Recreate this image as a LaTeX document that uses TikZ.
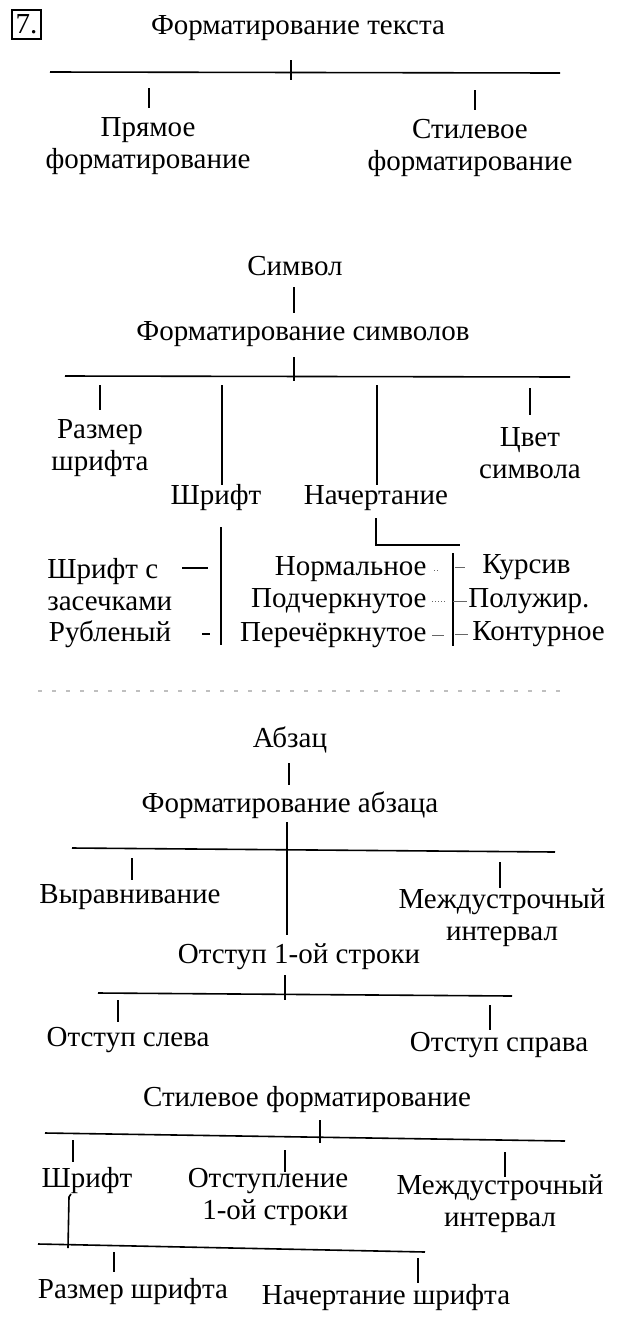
\documentclass[tikz,border=0pt]{standalone}
\usepackage{fontspec}
\setmainfont{Liberation Serif}
\usetikzlibrary{positioning}

\tikzset{
  lbl/.style={inner sep=0pt, align=center, font=\fontsize{14.5}{16}\selectfont},
  rule/.style={line width=0.8pt},
  faint/.style={line width=0.5pt, black!60},
}

\begin{document}
\begin{tikzpicture}[x=0.5pt,y=-0.5pt]
	  \useasboundingbox (0,0) rectangle (633,1335);

	  % Define nodes: text formatting
	  \node[lbl, draw, line width=0.6pt, minimum width=14.5pt, minimum height=14.5pt] (num) at (26.5,24.5) {7.};
	  \node[lbl] (txtfmt) at (298,28)  {Форматирование текста};
	  \node[lbl] (direct) at (148,146) {Прямое\\форматирование};
	  \node[lbl] (styled) at (470,148) {Стилевое\\форматирование};

	  % Connect the nodes
	  \coordinate (barA) at (50,72);
	  \coordinate (barB) at (560,73);
	  \draw[rule] (barA) -- (barB);
	  \draw[rule] (txtfmt.center) ++(-7,32) -- ++(0,20);
	  \draw[rule] (direct.center) ++(1,-58) -- ++(0,20);
	  \draw[rule] (styled.center) ++(5,-58) -- ++(0,20);

	  % Define nodes: symbol
	  \node[lbl] (symbol)  at (295,266) {Символ};
	  \node[lbl] (symfmt)  at (303,334) {Форматирование символов};
	  \node[lbl] (size)    at (100,448) {Размер\\шрифта};
	  \node[lbl] (font)    at (216,498) {Шрифт};
	  \node[lbl] (face)    at (376,498) {Начертание};
	  \node[lbl] (color)   at (530,453) {Цвет\\символа};
	  \node[lbl, align=left, anchor=west] (serif) at (47,585) {Шрифт с\\засечками};
	  \node[lbl] (sans)    at (110,634) {Рубленый};
	  \node[lbl, anchor=east] (normal)  at (427,569) {Нормальное};
	  \node[lbl, anchor=east] (under)   at (427,601) {Подчеркнутое};
	  \node[lbl, anchor=east] (strike)  at (427,635) {Перечёркнутое};
	  \node[lbl, anchor=west] (italic)  at (482,567) {Курсив};
	  \node[lbl, anchor=west] (bold)    at (468,601) {Полужир.};
	  \node[lbl, anchor=west] (outline) at (472,634) {Контурное};

	  % Connect the nodes
	  \draw[rule] (symbol.center) ++(-1,21) -- ++(0,26);
	  \coordinate (barC) at (65,376);
	  \coordinate (barD) at (570,377);
	  \draw[rule] (barC) -- (barD);
	  \draw[rule] (symfmt.center) ++(-9,23) -- ++(0,24);
	  \draw[rule] (size.center) ++(0,-63) -- ++(0,25);
	  \draw[rule] (font.center) ++(6,-113) -- ++(0,100);
	  \draw[rule] (face.center) ++(1,-113) -- ++(0,100);
	  \draw[rule] (color.center) ++(0,-65) -- ++(0,27);
	  \draw[rule] (font.center) ++(5,29) -- ++(0,118);
	  \draw[rule] (face.center) ++(0,20) -- ++(0,27) -- ++(84,0);
	  \draw[rule] (normal.east) ++(26,-16) -- ++(0,93);
	  \draw[rule] (serif.west) ++(135,-17) -- ++(26,0);
	  \draw[rule] (sans.center) ++(92,0) -- ++(8,0);
	  \draw[faint, densely dotted] (normal.east) ++(7,1) -- ++(4,0);
	  \draw[faint, densely dotted] (under.east) ++(5,0) -- ++(14,0);
	  \draw[faint] (strike.east) ++(5,0) -- ++(12,0);
	  \draw[faint] (italic.west) ++(-27,0) -- ++(10,0);
	  \draw[faint] (bold.west) ++(-15,0) -- ++(14,0);
	  \draw[faint] (outline.west) ++(-17,0) -- ++(13,0);
	  \draw[black!25, line width=0.6pt, dash pattern=on 2pt off 5pt] (38,691) -- (565,691);

	  % Define nodes: paragraph
	  \node[lbl] (para)    at (290,740)  {Абзац};
	  \node[lbl] (parafmt) at (290,805)  {Форматирование абзаца};
	  \node[lbl] (align)   at (130,897)  {Выравнивание};
	  \node[lbl] (spacing) at (502,918)  {Междустрочный\\интервал};
	  \node[lbl] (indent)  at (299,957)  {Отступ 1-ой строки};
	  \node[lbl] (left)    at (128,1040) {Отступ слева};
	  \node[lbl] (right)   at (499,1045) {Отступ справа};

	  % Connect the nodes
	  \draw[rule] (para.center) ++(-1,23) -- ++(0,22);
	  \draw[rule] (parafmt.center) ++(-3,17) -- ++(0,113);
	  \coordinate (barE) at (72,848);
	  \coordinate (barF) at (555,852);
	  \draw[rule] (barE) -- (barF);
	  \draw[rule] (align.center) ++(2,-39) -- ++(0,22);
	  \draw[rule] (spacing.center) ++(-2,-56) -- ++(0,26);
	  \draw[rule] (indent.center) ++(-14,18) -- ++(0,25);
	  \coordinate (barG) at (98,993);
	  \coordinate (barH) at (512,996);
	  \draw[rule] (barG) -- (barH);
	  \draw[rule] (left.center) ++(-10,-40) -- ++(0,22);
	  \draw[rule] (right.center) ++(-9,-40) -- ++(0,25);

	  % Define nodes: style formatting
	  \node[lbl] (stylefmt) at (307,1100) {Стилевое форматирование};
	  \node[lbl] (sfont)    at (87,1181)  {Шрифт};
	  \node[lbl, align=right] (sindent) at (268,1197) {Отступление\\1-ой строки};
	  \node[lbl] (sspacing) at (500,1204) {Междустрочный\\интервал};
	  \node[lbl] (fsize)    at (133,1292) {Размер шрифта};
	  \node[lbl] (fface)    at (386,1298) {Начертание шрифта};

	  % Connect the nodes
	  \draw[rule] (stylefmt.center) ++(13,20) -- ++(0,23);
	  \coordinate (barI) at (45,1133);
	  \coordinate (barJ) at (565,1141);
	  \draw[rule] (barI) -- (barJ);
	  \draw[rule] (sfont.center) ++(-14,-41) -- ++(0,22);
	  \draw[rule] (sindent.center) ++(17,-47) -- ++(0,22);
	  \draw[rule] (sspacing.center) ++(5,-52) -- ++(0,25);
	  \draw[rule] (sfont.center) ++(-16,13) -- ++(-2,3) -- ++(-1,51);
	  \coordinate (barK) at (38,1244);
	  \coordinate (barL) at (425,1252);
	  \draw[rule] (barK) -- (barL);
	  \draw[rule] (fsize.center) ++(-19,-40) -- ++(0,20);
	  \draw[rule] (fface.center) ++(32,-40) -- ++(0,25);
\end{tikzpicture}
\end{document}
